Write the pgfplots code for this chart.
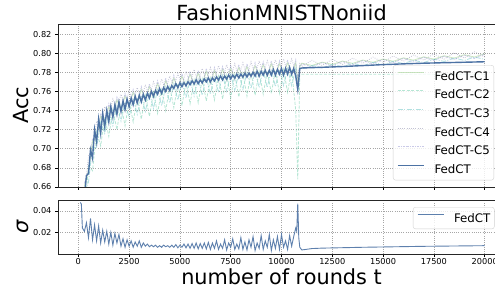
\documentclass[border=0pt]{standalone}
\usepackage{pgfplots}
\pgfplotsset{compat=1.18}
\usepackage{pgfplotstable}
\usepackage{fontspec}
\setmainfont{DejaVu Sans}
\definecolor{fedct}{RGB}{76,114,164}
\definecolor{cone}{RGB}{140,200,120}
\definecolor{ctwo}{RGB}{110,205,170}
\definecolor{cthree}{RGB}{100,195,195}
\definecolor{cfour}{RGB}{120,120,160}
\definecolor{cfive}{RGB}{140,140,205}

\pgfplotstableread{
x y
300 .650
400 .672
500 .674
600 .699
700 .690
800 .720
900 .707
1000 .731
1100 .716
1200 .737
1300 .723
1400 .740
1500 .728
1600 .744
1700 .733
1800 .746
1900 .736
2000 .749
2100 .739
2200 .750
2300 .741
2400 .752
2500 .744
2600 .753
2700 .746
2800 .755
2900 .748
3000 .756
3100 .749
3200 .757
3300 .751
3400 .758
3500 .753
3600 .760
3700 .755
3800 .761
3900 .757
4000 .763
4100 .758
4200 .764
4300 .760
4400 .765
4500 .761
4600 .766
4700 .763
4800 .768
4900 .764
5000 .769
5100 .765
5200 .769
5300 .766
5400 .770
5500 .767
5600 .771
5700 .768
5800 .772
5900 .768
6000 .772
6100 .769
6200 .773
6300 .770
6400 .774
6500 .770
6600 .774
6700 .771
6800 .775
6900 .772
7000 .776
7100 .772
7200 .776
7300 .773
7400 .777
7500 .773
7600 .777
7700 .774
7800 .778
7900 .774
8000 .778
8100 .775
8200 .779
8300 .775
8400 .779
8500 .776
8600 .780
8700 .776
8800 .781
8900 .776
9000 .781
9100 .777
9200 .782
9300 .777
9400 .782
9500 .777
9600 .783
9700 .777
9800 .783
9900 .778
10000 .784
10100 .777
10200 .784
10300 .778
10400 .785
10500 .778
10600 .784
10700 .776
10800 .762
10850 .772
10900 .784
11000 .7845
12000 .7852
13000 .786
14000 .787
15000 .788
16000 .7888
17000 .7895
18000 .790
19000 .7905
20000 .791
}\fedcttab

\pgfplotstableread{
x c1 c2 c3 c4 c5
300 .661 .630 .655 .651 .664
500 .677 .682 .665 .693 .676
700 .708 .677 .702 .698 .711
900 .713 .718 .701 .729 .712
1100 .734 .703 .728 .724 .737
1300 .728 .733 .716 .744 .727
1500 .744 .713 .738 .734 .747
1700 .736 .741 .724 .752 .735
1900 .751 .720 .745 .741 .754
2100 .741 .746 .729 .757 .740
2300 .755 .724 .749 .745 .758
2500 .745 .750 .733 .761 .744
2700 .759 .728 .753 .749 .762
2900 .748 .753 .736 .764 .747
3100 .762 .731 .756 .752 .765
3300 .751 .756 .739 .767 .750
3500 .765 .734 .759 .755 .768
3700 .754 .759 .742 .770 .753
3900 .768 .737 .762 .758 .771
4100 .757 .762 .745 .773 .756
4300 .771 .740 .765 .761 .774
4500 .760 .765 .748 .776 .759
4700 .774 .743 .768 .764 .777
4900 .763 .768 .751 .779 .762
5100 .776 .745 .770 .766 .779
5300 .765 .770 .753 .781 .764
5500 .778 .747 .772 .768 .781
5700 .767 .772 .755 .783 .766
5900 .779 .748 .773 .769 .782
6100 .768 .773 .756 .784 .767
6300 .781 .750 .775 .771 .784
6500 .769 .774 .757 .785 .768
6700 .782 .751 .776 .772 .785
6900 .771 .776 .759 .787 .770
7100 .783 .752 .777 .773 .786
7300 .772 .777 .760 .788 .771
7500 .784 .753 .778 .774 .787
7700 .773 .778 .761 .789 .772
7900 .785 .754 .779 .775 .788
8100 .774 .779 .762 .790 .773
8300 .786 .755 .780 .776 .789
8500 .775 .780 .763 .791 .774
8700 .787 .756 .781 .777 .790
8900 .776 .781 .764 .792 .775
9100 .788 .757 .782 .778 .791
9300 .776 .781 .764 .792 .775
9500 .789 .758 .783 .779 .792
9700 .777 .782 .765 .793 .776
9900 .789 .758 .783 .779 .792
10100 .778 .783 .766 .794 .777
10300 .790 .759 .784 .780 .793
10500 .778 .783 .766 .794 .777
10700 .790 .740 .784 .780 .793
10800 .770 .668 .760 .775 .772
10900 .786 .778 .785 .789 .787
11000 .7895 .778 .7835 .786 .789
11500 .7871 .778 .7871 .7926 .7856
12000 .7906 .778 .7846 .7871 .7901
12500 .7882 .778 .7882 .7937 .7867
13000 .7917 .778 .7857 .7882 .7912
13500 .7893 .778 .7893 .7948 .7878
14000 .7928 .778 .7868 .7893 .7923
14500 .7904 .778 .7904 .7959 .7889
15000 .7939 .778 .7879 .7904 .7934
15500 .7915 .778 .7915 .7970 .7900
16000 .7951 .778 .7891 .7916 .7946
16500 .7926 .778 .7926 .7981 .7911
17000 .7962 .778 .7902 .7927 .7957
17500 .7937 .778 .7937 .7992 .7922
18000 .7973 .778 .7913 .7938 .7968
18500 .7948 .778 .7948 .8003 .7933
19000 .7984 .778 .7924 .7949 .7979
19500 .7959 .778 .7959 .8014 .7944
20000 .7995 .778 .7935 .7960 .7990
}\clienttab

\pgfplotstableread{
x s
100 .048
150 .0465
200 .024
300 .021
400 .029
500 .015
600 .033
700 .013
800 .027
900 .012
1000 .026
1100 .010
1200 .022
1300 .011
1400 .021
1500 .009
1600 .020
1700 .008
1800 .019
1900 .010
2000 .018
2100 .007
2200 .014
2300 .006
2400 .013
2500 .007
2600 .012
2700 .006
2800 .011
2900 .007
3000 .012
3100 .006
3200 .010
3300 .007
3400 .009
3500 .0065
3600 .008
3700 .0065
3800 .008
3900 .006
4000 .0075
4100 .006
4200 .008
4300 .0065
4400 .0075
4500 .006
4600 .008
4700 .006
4800 .0085
4900 .0055
5000 .008
5100 .006
5200 .009
5300 .0055
5400 .009
5500 .005
5600 .0095
5700 .005
5800 .010
5900 .0045
6000 .0095
6100 .005
6200 .010
6300 .0045
6400 .0105
6500 .004
6600 .010
6700 .005
6800 .012
6900 .004
7000 .009
7100 .005
7200 .013
7300 .0035
7400 .010
7500 .006
7600 .014
7700 .004
7800 .009
7900 .0045
8000 .015
8100 .004
8200 .011
8300 .0035
8400 .013
8500 .006
8600 .016
8700 .003
8800 .010
8900 .005
9000 .017
9100 .004
9200 .012
9300 .006
9400 .018
9500 .003
9600 .013
9700 .005
9800 .016
9900 .004
10000 .018
10100 .006
10200 .012
10300 .004
10400 .017
10500 .007
10600 .016
10700 .024
10750 .021
10800 .047
10850 .015
10900 .006
11000 .0035
11200 .004
11500 .0048
12000 .0052
13000 .0056
14000 .0060
15000 .0063
16000 .0066
17000 .0069
18000 .0071
19000 .0073
20000 .0075
}\sigmatab

\pgfplotsset{
  myaxis/.style={
    scale only axis,
    anchor=south west,
    width=447pt,
    xmin=-1000, xmax=21000,
    xtick={0,2500,5000,7500,10000,12500,15000,17500,20000},
    scaled x ticks=false, scaled y ticks=false,
    grid=major,
    major grid style={gray!70, line width=0.6pt, dash pattern=on 0.8pt off 1.4pt},
    axis line style={black!85, line width=0.9pt},
    tick style={black, line width=0.6pt},
    major tick length=3pt,
    tick align=outside,
    xtick pos=bottom, ytick pos=left,
    tick label style={font=\fontsize{8.2}{9}\selectfont},
    /pgf/number format/assume math mode=true,
    legend cell align=left,
    legend image code/.code={\draw[##1] (0pt,4pt) -- (26pt,4pt);},
    legend style={draw=gray!35, fill=white, fill opacity=0.8, text opacity=1,
      rounded corners=2.5pt, inner xsep=4pt, inner ysep=6.5pt,
      font=\fontsize{11.8}{13}\selectfont, row sep=10pt,
      nodes={inner sep=0pt, text height=8.4pt, text depth=0pt},
      /tikz/every odd column/.style={column sep=10pt}},
  }
}

\begin{document}
\begin{tikzpicture}
\begin{axis}[myaxis,
  at={(58pt,102pt)}, height=163pt,
  ymin=0.66, ymax=0.8305,
  ytick={0.66,0.68,0.70,0.72,0.74,0.76,0.78,0.80,0.82},
  yticklabel style={/pgf/number format/.cd, fixed, fixed zerofill, precision=2},
  xticklabels={},
  title={FashionMNISTNoniid},
  title style={at={(axis description cs:0.5,1)}, anchor=base, yshift=-2.5pt, inner sep=0pt, font=\fontsize{20.8}{24}\selectfont},
  ylabel={Acc},
  ylabel style={at={(axis description cs:-0.065,0.5)}, anchor=south, inner sep=0pt, font=\fontsize{20.8}{24}\selectfont},
  legend style={at={(axis description cs:0.7494,0.748)}, anchor=north west},
]
\addplot[cone, opacity=0.45, line width=0.8pt] table[x=x, y=c1] {\clienttab};
\addlegendentry{FedCT-C1}
\addplot[ctwo, opacity=0.5, line width=0.8pt, dash pattern=on 3pt off 1.5pt] table[x=x, y=c2] {\clienttab};
\addlegendentry{FedCT-C2}
\addplot[cthree, opacity=0.5, line width=0.8pt, dash pattern=on 5pt off 1.5pt on 1pt off 1.5pt] table[x=x, y=c3] {\clienttab};
\addlegendentry{FedCT-C3}
\addplot[cfour, opacity=0.45, line width=0.8pt, dash pattern=on 0.8pt off 1.4pt] table[x=x, y=c4] {\clienttab};
\addlegendentry{FedCT-C4}
\addplot[cfive, opacity=0.45, line width=0.8pt, dash pattern=on 2pt off 1pt on 0.8pt off 1pt] table[x=x, y=c5] {\clienttab};
\addlegendentry{FedCT-C5}
\addplot[fedct, line width=1.4pt] table[x=x, y=y] {\fedcttab};
\addlegendentry{FedCT}
\end{axis}
\begin{axis}[myaxis,
  at={(58pt,35pt)}, height=54pt,
  ymin=-0.0003, ymax=0.0503,
  ytick={0.02,0.04},
  yticklabel style={/pgf/number format/.cd, fixed, fixed zerofill, precision=2},
  xticklabel style={yshift=2.5pt, /pgf/number format/.cd, fixed, 1000 sep={}},
  xlabel={number of rounds t},
  xlabel style={at={(axis description cs:0.5,0)}, anchor=base, yshift=-30pt, inner sep=0pt, font=\fontsize{20.8}{24}\selectfont},
  ylabel={\itshape σ},
  ylabel style={at={(axis description cs:-0.065,0.5)}, anchor=south, inner sep=0pt, font=\fontsize{20.8}{24}\selectfont},
  legend style={at={(axis description cs:0.794,0.870)}, anchor=north west},
]
\addplot[fedct, opacity=0.9, line width=0.9pt] table[x=x, y=s] {\sigmatab};
\addlegendentry{FedCT}
\end{axis}
\pgfresetboundingbox
\useasboundingbox (0pt,0pt) rectangle (495pt,289pt);
\end{tikzpicture}
\end{document}
